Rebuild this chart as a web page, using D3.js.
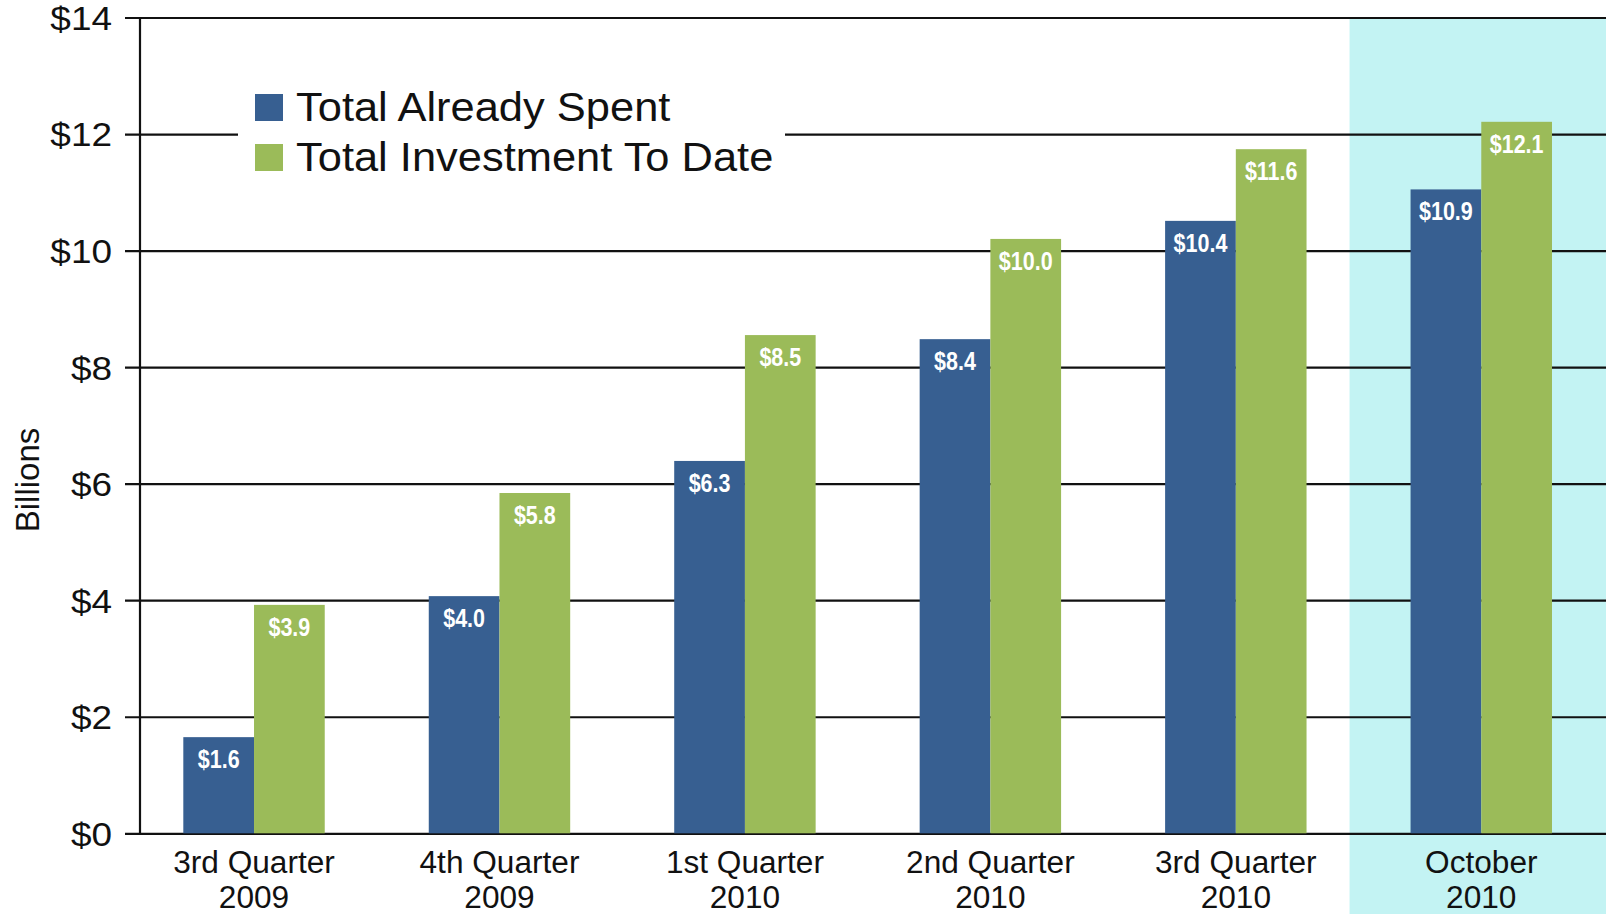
<!DOCTYPE html>
<html>
<head>
<meta charset="utf-8">
<script src="https://cdn.jsdelivr.net/npm/d3@7/dist/d3.min.js"></script>
<style>
  html, body { margin: 0; padding: 0; background: #ffffff; }
  svg { display: block; }
  text { font-family: "Liberation Sans", Arial, Helvetica, sans-serif; fill: #111; }
</style>
</head>
<body>
<svg id="chart" width="1606" height="914"></svg>
<script>
// ---- data ----
const categories = ["3rd Quarter\n2009", "4th Quarter\n2009", "1st Quarter\n2010", "2nd Quarter\n2010", "3rd Quarter\n2010", "October\n2010"];
const seriesNames = ["Total Already Spent", "Total Investment To Date"];
const spentValues = [1.65, 4.07, 6.39, 8.48, 10.51, 11.05];
const investedValues = [3.92, 5.84, 8.55, 10.2, 11.74, 12.21];
const spentLabels = ["$1.6", "$4.0", "$6.3", "$8.4", "$10.4", "$10.9"];
const investedLabels = ["$3.9", "$5.8", "$8.5", "$10.0", "$11.6", "$12.1"];
const yTicks = [0, 2, 4, 6, 8, 10, 12, 14];
const highlighted = "October\n2010";

const colors = ["#375f91", "#9bbb59"];

const svg = d3.select("#chart");
const W = 1606, H = 914;

const axisX = 140;
const y = d3.scaleLinear().domain([0, 14]).range([833.3, 17.5]);
const x0 = d3.scaleBand().domain(categories).range([131.3, 1604]).padding(0);
const x1 = d3.scaleBand().domain(seriesNames).range([0, x0.bandwidth()]).paddingInner(0).paddingOuter(0.7355);

// highlight band
svg.append("rect")
  .attr("x", x0(highlighted) - 9)
  .attr("y", y(14))
  .attr("width", W - (x0(highlighted) - 9))
  .attr("height", H - y(14))
  .attr("fill", "#c3f3f3");

// gridlines + y axis via d3.axisLeft
const yAxis = d3.axisLeft(y)
  .tickValues(yTicks)
  .tickSize(-(W - axisX))
  .tickPadding(14)
  .tickFormat(d => "$" + d);

const tickScale = 1.12;
const gAxis = svg.append("g").attr("transform", `translate(${axisX},0)`).call(yAxis);
gAxis.select(".domain").remove();
gAxis.selectAll(".tick line").attr("stroke", "#111").attr("stroke-width", 2.2).attr("x1", -15);
gAxis.selectAll(".tick text")
  .attr("x", -28 / tickScale)
  .attr("dy", "0.36em")
  .attr("transform", `scale(${tickScale},1)`)
  .attr("font-size", 33)
  .attr("fill", "#111")
  .style("font-family", '"Liberation Sans", Arial, sans-serif');

// vertical axis line
svg.append("line")
  .attr("x1", axisX).attr("x2", axisX)
  .attr("y1", y(14)).attr("y2", y(0))
  .attr("stroke", "#111").attr("stroke-width", 2.2);

// legend backdrop (covers gridline)
svg.append("rect")
  .attr("x", 238).attr("y", 78).attr("width", 547).attr("height", 104)
  .attr("fill", "#ffffff");

// bars
const rows = categories.map((c, i) => ({
  cat: c,
  vals: [
    { s: seriesNames[0], v: spentValues[i], label: spentLabels[i], color: colors[0] },
    { s: seriesNames[1], v: investedValues[i], label: investedLabels[i], color: colors[1] }
  ]
}));

const groups = svg.append("g").selectAll("g").data(rows).join("g")
  .attr("transform", d => `translate(${x0(d.cat)},0)`);

groups.selectAll("rect").data(d => d.vals).join("rect")
  .attr("x", d => x1(d.s))
  .attr("y", d => y(d.v))
  .attr("width", x1.bandwidth())
  .attr("height", d => y(0) - y(d.v))
  .attr("fill", d => d.color);

groups.selectAll("text.val").data(d => d.vals).join("text")
  .attr("class", "val")
  .attr("transform", d => `translate(${x1(d.s) + x1.bandwidth() / 2},${y(d.v) + 31}) scale(0.86,1)`)
  .attr("text-anchor", "middle")
  .attr("font-size", 25)
  .attr("font-weight", "bold")
  .style("fill", "#ffffff")
  .text(d => d.label);

// x axis labels
const xLab = svg.append("g").selectAll("text").data(categories).join("text")
  .attr("text-anchor", "middle")
  .attr("font-size", 31)
  .attr("transform", d => `translate(${x0(d) + x0.bandwidth() / 2},0) scale(1.02,1)`);
xLab.each(function(d) {
  const parts = d.split("\n");
  d3.select(this).selectAll("tspan").data(parts).join("tspan")
    .attr("x", 0)
    .attr("y", (p, i) => 873 + i * 35)
    .text(p => p);
});

// y axis title
svg.append("text")
  .attr("transform", `translate(39,${480}) rotate(-90)`)
  .attr("text-anchor", "middle")
  .attr("font-size", 33)
  .text("Billions");

// legend
const leg = svg.append("g").selectAll("g").data(seriesNames).join("g")
  .attr("transform", (d, i) => `translate(255,${94 + i * 50})`);
leg.append("rect").attr("width", 28).attr("height", 27).attr("fill", (d, i) => colors[i]);
leg.append("text")
  .attr("transform", "translate(41,27) scale(1.06,1)")
  .attr("font-size", 41)
  .text(d => d);
</script>
</body>
</html>
